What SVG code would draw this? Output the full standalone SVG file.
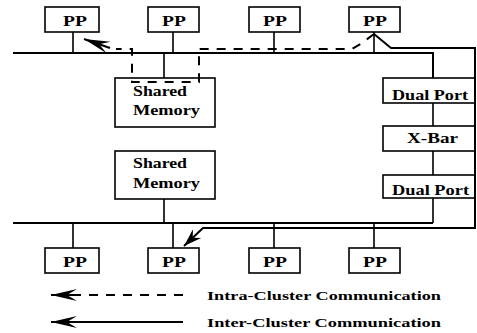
<svg xmlns="http://www.w3.org/2000/svg" width="477" height="333" viewBox="0 0 477 333">
<style>
.box{fill:#fff;stroke:#000;stroke-width:1.6}
.t{font-family:"Liberation Serif","Times New Roman",serif;font-weight:bold;font-size:14px;fill:#000}
.lg{font-family:"Liberation Serif","Times New Roman",serif;font-weight:bold;font-size:13px;fill:#000}
.bus{fill:none;stroke:#000;stroke-width:2}
.stub{fill:none;stroke:#000;stroke-width:1.6}
.sol{fill:none;stroke:#000;stroke-width:2}
.dash{fill:none;stroke:#000;stroke-width:2;stroke-dasharray:9,8}
</style>
<defs>
<marker id="ah" viewBox="-20 -7 22 14" refX="0" refY="0" markerWidth="22" markerHeight="14" markerUnits="userSpaceOnUse" orient="auto">
<path d="M0,0 L-18,-6 L-12,0 L-18,6 Z" fill="#000"/>
</marker>
<marker id="ahL" viewBox="-30 -7 32 14" refX="0" refY="0" markerWidth="32" markerHeight="14" markerUnits="userSpaceOnUse" orient="auto">
<path d="M0,0 L-26,-6 L-16,0 L-26,6 Z" fill="#000"/>
</marker>
</defs>
<g id="pp1"><rect class="box" x="45" y="7" width="54" height="25"/><text class="t" x="63" y="26" textLength="24" lengthAdjust="spacingAndGlyphs">PP</text></g>
<g id="pp2"><rect class="box" x="148" y="7" width="51" height="25"/><text class="t" x="162" y="26" textLength="24" lengthAdjust="spacingAndGlyphs">PP</text></g>
<g id="pp3"><rect class="box" x="249" y="7" width="51" height="25"/><text class="t" x="263" y="26" textLength="24" lengthAdjust="spacingAndGlyphs">PP</text></g>
<g id="pp4"><rect class="box" x="349" y="7" width="51" height="25"/><text class="t" x="363" y="26" textLength="24" lengthAdjust="spacingAndGlyphs">PP</text></g>
<g id="pp5"><rect class="box" x="45" y="248" width="54" height="25"/><text class="t" x="63" y="267" textLength="24" lengthAdjust="spacingAndGlyphs">PP</text></g>
<g id="pp6"><rect class="box" x="148" y="248" width="51" height="25"/><text class="t" x="162" y="267" textLength="24" lengthAdjust="spacingAndGlyphs">PP</text></g>
<g id="pp7"><rect class="box" x="249" y="248" width="51" height="25"/><text class="t" x="263" y="267" textLength="24" lengthAdjust="spacingAndGlyphs">PP</text></g>
<g id="pp8"><rect class="box" x="349" y="248" width="51" height="25"/><text class="t" x="363" y="267" textLength="24" lengthAdjust="spacingAndGlyphs">PP</text></g>
<g id="sm1"><rect class="box" x="115" y="78" width="100" height="49"/><text class="t" x="133" y="96" textLength="54" lengthAdjust="spacingAndGlyphs">Shared</text><text class="t" x="133" y="115" textLength="67" lengthAdjust="spacingAndGlyphs">Memory</text></g>
<g id="sm2"><rect class="box" x="115" y="151" width="100" height="48"/><text class="t" x="133" y="168" textLength="54" lengthAdjust="spacingAndGlyphs">Shared</text><text class="t" x="133" y="188" textLength="67" lengthAdjust="spacingAndGlyphs">Memory</text></g>
<g id="dp1"><rect class="box" x="383" y="78" width="92" height="25"/><text class="t" x="392" y="100" textLength="76" lengthAdjust="spacingAndGlyphs">Dual Port</text></g>
<g id="xbar"><rect class="box" x="383" y="126" width="92" height="25"/><text class="t" x="407" y="143" textLength="51" lengthAdjust="spacingAndGlyphs">X-Bar</text></g>
<g id="dp2"><rect class="box" x="383" y="175" width="92" height="23"/><text class="t" x="392" y="195" textLength="77" lengthAdjust="spacingAndGlyphs">Dual Port</text></g>
<g id="connectors">
<path class="bus" d="M13,53 H433 V78"/>
<path class="stub" d="M433,103 V126 M433,151 V175 M433,198 V223"/>
<path class="bus" d="M13,223 H433"/>
<path class="stub" d="M73,32 V53 M173,32 V53 M274,32 V53 M374,32 V53"/>
<path class="stub" d="M73,223 V248 M173,223 V248 M274,223 V248 M374,223 V248"/>
<path class="stub" d="M164,53 V78 M164,199 V223"/>
<path class="dash" d="M374,34 L362,43 L352,49 H199 V82 H132 V49 H116"/>
<path class="sol" d="M110,48 L84,39" stroke-width="1.5" marker-end="url(#ahL)"/>
<path class="sol" d="M374,34 L391,48 H475 V228 H203 L184,246" marker-end="url(#ah)"/>
</g>
<g id="legend">
<path class="dash" d="M183,295 H80"/>
<path class="sol" d="M80,295 H51" stroke-width="1.5" marker-end="url(#ahL)"/>
<path class="sol" d="M183,322 H51" stroke-width="1.5" marker-end="url(#ahL)"/>
<text class="lg" x="207" y="300" textLength="234" lengthAdjust="spacingAndGlyphs">Intra-Cluster Communication</text>
<text class="lg" x="207" y="327" textLength="234" lengthAdjust="spacingAndGlyphs">Inter-Cluster Communication</text>
</g>
</svg>
